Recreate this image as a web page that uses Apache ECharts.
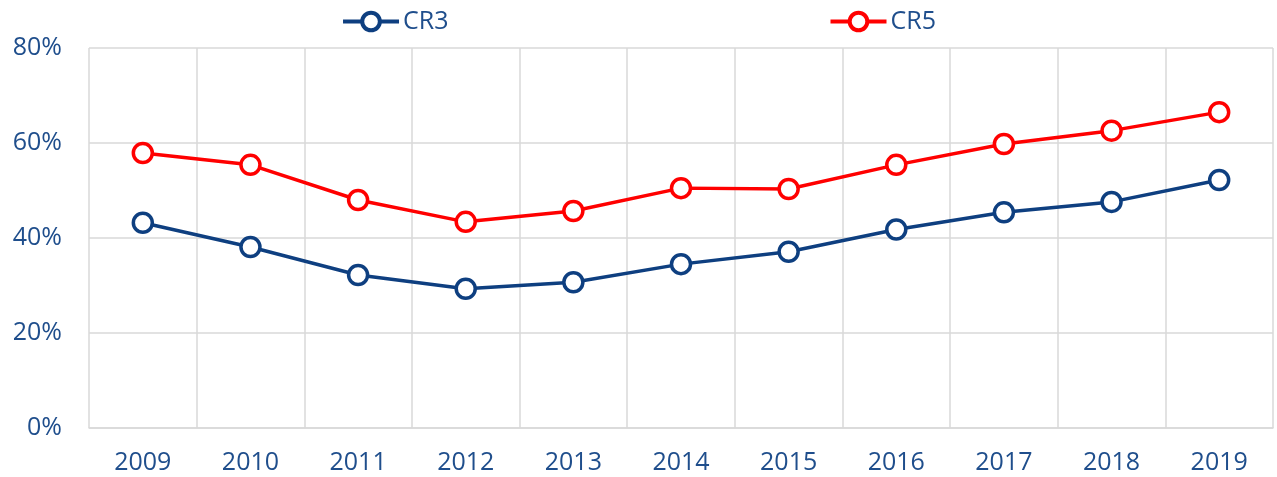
<!DOCTYPE html>
<html>
<head>
<meta charset="utf-8">
<script src="https://cdn.jsdelivr.net/npm/echarts@6/dist/echarts.min.js"></script>
<style>
  html, body { margin: 0; padding: 0; background: #fff; }
  #chart { width: 1277px; height: 477px; }
</style>
</head>
<body>
<div id="chart"></div>
<script>
const years = ["2009", "2010", "2011", "2012", "2013", "2014", "2015", "2016", "2017", "2018", "2019"];
const cr3 = [43.2, 38.1, 32.2, 29.3, 30.7, 34.5, 37.1, 41.8, 45.4, 47.6, 52.2];
const cr5 = [57.9, 55.4, 48.0, 43.4, 45.7, 50.5, 50.3, 55.4, 59.8, 62.6, 66.5];

const textColor = "#1f4e8c";
const gridColor = "#d9d9d9";

const chart = echarts.init(document.getElementById("chart"));

chart.setOption({
    animation: false,
    textStyle: { fontFamily: "Open Sans" },
    legend: {
        top: 4,
        left: "center",
        itemGap: 380,
        itemWidth: 56,
        itemHeight: 22,
        lineStyle: { width: 4 },
        itemStyle: { borderWidth: 4 },
        textStyle: { color: textColor, fontSize: 25, fontFamily: "Open Sans", padding: [0, 0, 0, -1] },
        data: ["CR3", "CR5"]
    },
    grid: { left: 89, right: 4, top: 48, bottom: 49 },
    xAxis: {
        type: "category",
        data: years,
        boundaryGap: true,
        axisLine: { lineStyle: { color: gridColor, width: 1.5 } },
        axisTick: { show: false },
        axisLabel: { color: textColor, fontSize: 25, margin: 22 },
        splitLine: { show: true, lineStyle: { color: gridColor, width: 1.5 } }
    },
    yAxis: {
        type: "value",
        min: 0,
        max: 80,
        interval: 20,
        axisLine: { show: false },
        axisTick: { show: false },
        axisLabel: { color: textColor, fontSize: 25, margin: 27, formatter: "{value}%" },
        splitLine: { lineStyle: { color: gridColor, width: 1.5 } }
    },
    series: [
        {
            name: "CR3",
            type: "line",
            data: cr3,
            symbol: "circle",
            symbolSize: 19,
            lineStyle: { color: "#0e3f80", width: 3.5 },
            itemStyle: { color: "#fff", borderColor: "#0e3f80", borderWidth: 3.5 }
        },
        {
            name: "CR5",
            type: "line",
            data: cr5,
            symbol: "circle",
            symbolSize: 19,
            lineStyle: { color: "#ff0000", width: 3.5 },
            itemStyle: { color: "#fff", borderColor: "#ff0000", borderWidth: 3.5 }
        }
    ]
});
</script>
</body>
</html>
